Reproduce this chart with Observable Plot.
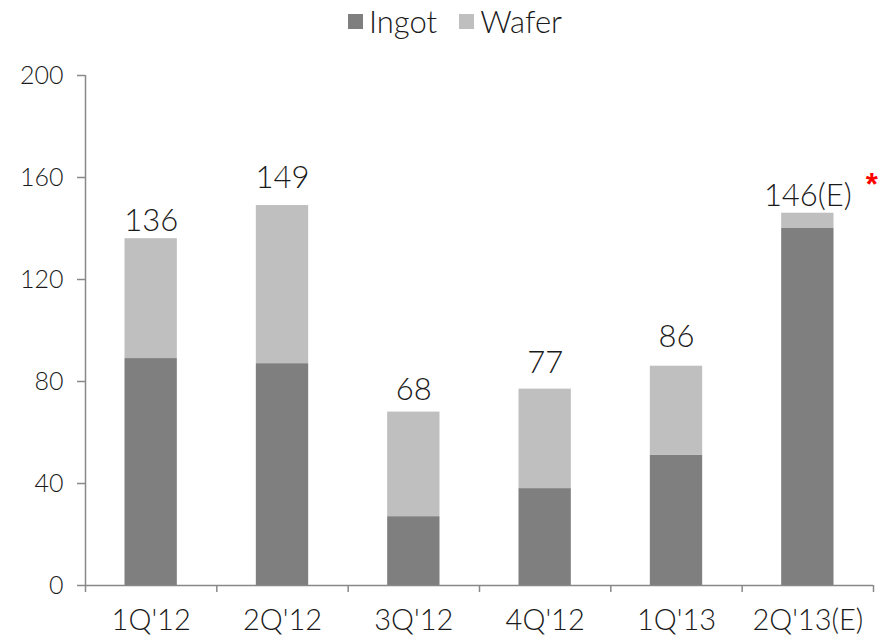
<!DOCTYPE html>
<html>
<head>
<meta charset="utf-8">
<script src="https://cdn.jsdelivr.net/npm/d3@7"></script>
<script src="https://cdn.jsdelivr.net/npm/@observablehq/plot@0.6"></script>
<style>
  html, body { margin: 0; padding: 0; background: #fff; }
  body { width: 888px; height: 636px; overflow: hidden; font-family: Lato, "Liberation Sans", Arial, sans-serif; font-weight: 300; color: #1a1a1a; }
  #legend { height: 40px; display: flex; justify-content: center; align-items: center; padding-left: 22px; box-sizing: border-box; padding-top: 2px; font-size: 31px; line-height: 1; }
  .item { display: flex; align-items: center; }
  .item + .item { margin-left: 22px; }
  .sw { width: 15px; height: 15px; margin-right: 6px; }
</style>
</head>
<body>
<div id="legend"></div>
<div id="chart"></div>
<script>
const categories = ["1Q'12", "2Q'12", "3Q'12", "4Q'12", "1Q'13", "2Q'13(E)"];
const ingot = [89, 87, 27, 38, 51, 140];
const wafer = [47, 62, 41, 39, 35, 6];
const totalLabels = ["136", "149", "68", "77", "86", "146(E)"];
const seriesNames = ["Ingot", "Wafer"];
const seriesColors = ["#7f7f7f", "#bfbfbf"];
const yTicks = [0, 40, 80, 120, 160, 200];
const noteMark = "*";

// label lift above each bar (px), as placed in the original
const labelLift = [8, 18, 12, 16, 19, 7];

const rows = [];
categories.forEach((c, i) => rows.push({i, cat: c, series: "Ingot", value: ingot[i]}));
categories.forEach((c, i) => rows.push({i, cat: c, series: "Wafer", value: wafer[i]}));
const totals = categories.map((c, i) => ({i, cat: c, total: ingot[i] + wafer[i], label: totalLabels[i]}));

// legend
const legend = document.getElementById("legend");
seriesNames.forEach((s, k) => {
  const it = document.createElement("div");
  it.className = "item";
  const sw = document.createElement("div");
  sw.className = "sw";
  sw.style.background = seriesColors[k];
  const tx = document.createElement("span");
  tx.textContent = s;
  it.appendChild(sw); it.appendChild(tx);
  legend.appendChild(it);
});

const axisColor = "#888888";
const textColor = "#1a1a1a";
const chart = Plot.plot({
  width: 888,
  height: 596,
  marginTop: 35,
  marginBottom: 51,
  marginLeft: 85,
  marginRight: 15,
  style: {fontFamily: "Lato, 'Liberation Sans', Arial, sans-serif", fontWeight: 300, background: "#fff", color: textColor},
  x: {type: "linear", domain: [0, categories.length]},
  y: {domain: [0, 200]},
  color: {domain: seriesNames, range: seriesColors},
  marks: [
    Plot.rectY(rows, {x1: "i", x2: d => d.i + 1, y: "value", fill: "series", insetLeft: 39.5, insetRight: 39.5}),
    Plot.ruleX([0], {stroke: axisColor, strokeWidth: 1.5}),
    Plot.ruleY([0], {stroke: axisColor, strokeWidth: 1.5}),
    Plot.axisY({ticks: yTicks, tickSize: 8, tickPadding: 14, fontSize: 25, stroke: axisColor, strokeWidth: 1.5, fill: textColor, label: null}),
    Plot.axisX({ticks: d3.range(categories.length + 1), tickSize: 7, tickFormat: () => "", stroke: axisColor, strokeWidth: 1.5, label: null}),
    Plot.axisX({ticks: categories.map((c, i) => i + 0.5), tickSize: 0, tickPadding: 24, fontSize: 29, fill: textColor, tickFormat: v => categories[Math.round(v - 0.5)], label: null}),
    ...totals.map((t, k) => Plot.text([t], {x: d => d.i + 0.5, y: "total", text: "label", dy: -labelLift[k], lineAnchor: "bottom", fontSize: 31, fill: textColor})),
    Plot.text(totals.filter(d => d.label.includes("(E)")), {x: d => d.i + 0.5, y: "total", text: () => noteMark, dx: 64, dy: -18, lineAnchor: "bottom", fontSize: 31, fontWeight: "bold", fontFamily: "'Liberation Sans', Arial, sans-serif", fill: "#ff0000"})
  ]
});
document.getElementById("chart").appendChild(chart);
</script>
</body>
</html>
